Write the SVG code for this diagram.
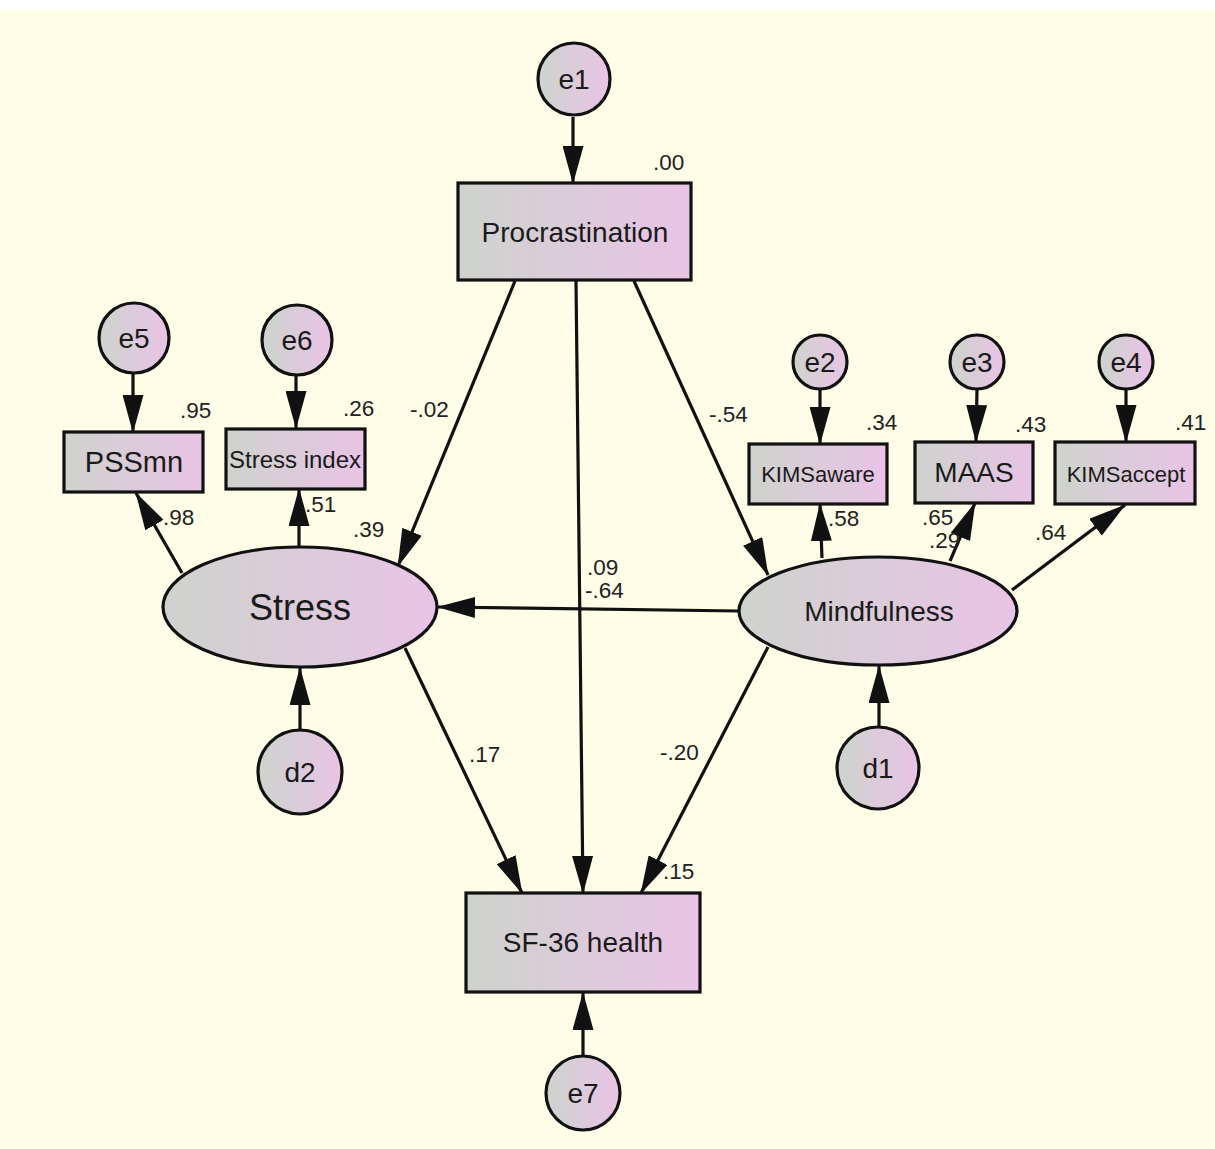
<svg xmlns="http://www.w3.org/2000/svg" width="1215" height="1149" viewBox="0 0 1215 1149">
<defs>
<linearGradient id="g" x1="0" y1="0" x2="1" y2="0">
<stop offset="0" stop-color="#ced3cd"/>
<stop offset="1" stop-color="#e9c3e6"/>
</linearGradient>
<marker id="ah" viewBox="0 0 38 21" refX="37" refY="10.5" markerWidth="38" markerHeight="21" markerUnits="userSpaceOnUse" orient="auto">
<path d="M0,0 L38,10.5 L0,21 z" fill="#111"/>
</marker>
<style>
.n{fill:url(#g);stroke:#111;stroke-width:3.2}
.t{font-family:"Liberation Sans",Arial,sans-serif;fill:#1a1a1a;text-anchor:middle}
.l{font-family:"Liberation Sans",Arial,sans-serif;fill:#222;font-size:22.5px}
.c line{stroke:#111;stroke-width:3.2;marker-end:url(#ah)}
</style>
</defs>
<rect x="0" y="0" width="1215" height="1149" fill="#fff"/>
<rect x="0" y="9" width="1215" height="1140" fill="#fffde8"/>

<g id="connectors" class="c">
<line x1="573" y1="117" x2="573" y2="183"/>
<line x1="515" y1="281" x2="398" y2="566"/>
<line x1="576" y1="281" x2="583" y2="893"/>
<line x1="634" y1="281" x2="768" y2="575"/>
<line x1="739" y1="611" x2="438" y2="607"/>
<line x1="182" y1="573" x2="136" y2="493"/>
<line x1="299" y1="547" x2="299" y2="489"/>
<line x1="822" y1="558" x2="820" y2="504"/>
<line x1="950" y1="561" x2="975" y2="503"/>
<line x1="1012" y1="590" x2="1125" y2="505"/>
<line x1="405" y1="648" x2="522" y2="893"/>
<line x1="768" y1="647" x2="641" y2="893"/>
<line x1="300" y1="731" x2="300" y2="668"/>
<line x1="879" y1="727" x2="879" y2="666"/>
<line x1="583" y1="1056" x2="583" y2="993"/>
<line x1="133" y1="374" x2="133" y2="432"/>
<line x1="296" y1="376" x2="296" y2="428"/>
<line x1="820" y1="389" x2="820" y2="444"/>
<line x1="977" y1="389" x2="976" y2="442"/>
<line x1="1126" y1="389" x2="1126" y2="442"/>
</g>

<g id="e1"><circle class="n" cx="574" cy="79" r="36"/><text class="t" x="574" y="89" font-size="28">e1</text></g>
<g id="procrastination"><rect class="n" x="458" y="183" width="233" height="97"/><text class="t" x="575" y="242" font-size="28">Procrastination</text></g>
<g id="e5"><circle class="n" cx="134" cy="338" r="35"/><text class="t" x="134" y="348" font-size="28">e5</text></g>
<g id="e6"><circle class="n" cx="297" cy="340" r="35"/><text class="t" x="297" y="350" font-size="28">e6</text></g>
<g id="pssmn"><rect class="n" x="64" y="432" width="139" height="60"/><text class="t" x="134" y="472" font-size="29">PSSmn</text></g>
<g id="stressindex"><rect class="n" x="226" y="429" width="139" height="60"/><text class="t" x="295" y="468" font-size="24">Stress index</text></g>
<g id="e2"><circle class="n" cx="820" cy="362" r="27"/><text class="t" x="820" y="372" font-size="28">e2</text></g>
<g id="e3"><circle class="n" cx="977" cy="362" r="27"/><text class="t" x="977" y="372" font-size="28">e3</text></g>
<g id="e4"><circle class="n" cx="1126" cy="362" r="27"/><text class="t" x="1126" y="372" font-size="28">e4</text></g>
<g id="kimsaware"><rect class="n" x="749" y="444" width="138" height="60"/><text class="t" x="818" y="482" font-size="22">KIMSaware</text></g>
<g id="maas"><rect class="n" x="915" y="442" width="118" height="61"/><text class="t" x="974" y="482" font-size="28">MAAS</text></g>
<g id="kimsaccept"><rect class="n" x="1055" y="442" width="140" height="62"/><text class="t" x="1126" y="482" font-size="22">KIMSaccept</text></g>
<g id="stress"><ellipse class="n" cx="300" cy="607" rx="137" ry="60"/><text class="t" x="300" y="620" font-size="36">Stress</text></g>
<g id="mindfulness"><ellipse class="n" cx="878" cy="611" rx="139" ry="54"/><text class="t" x="879" y="621" font-size="28">Mindfulness</text></g>
<g id="d2"><circle class="n" cx="300" cy="772" r="42"/><text class="t" x="300" y="782" font-size="28">d2</text></g>
<g id="d1"><circle class="n" cx="878" cy="768" r="41"/><text class="t" x="878" y="778" font-size="28">d1</text></g>
<g id="sf36"><rect class="n" x="466" y="893" width="234" height="99"/><text class="t" x="583" y="952" font-size="28">SF-36 health</text></g>
<g id="e7"><circle class="n" cx="583" cy="1093" r="37"/><text class="t" x="583" y="1103" font-size="28">e7</text></g>

<g id="labels">
<text class="l" x="653" y="170">.00</text>
<text class="l" x="410" y="417">-.02</text>
<text class="l" x="709" y="422">-.54</text>
<text class="l" x="180" y="418">.95</text>
<text class="l" x="343" y="416">.26</text>
<text class="l" x="163" y="525">.98</text>
<text class="l" x="305" y="512">.51</text>
<text class="l" x="353" y="537">.39</text>
<text class="l" x="866" y="430">.34</text>
<text class="l" x="1015" y="432">.43</text>
<text class="l" x="1175" y="430">.41</text>
<text class="l" x="828" y="526">.58</text>
<text class="l" x="922" y="525">.65</text>
<text class="l" x="929" y="548">.29</text>
<text class="l" x="1035" y="540">.64</text>
<text class="l" x="587" y="575" font-size="20">.09</text>
<text class="l" x="585" y="598" font-size="20">-.64</text>
<text class="l" x="469" y="762">.17</text>
<text class="l" x="660" y="760">-.20</text>
<text class="l" x="663" y="879">.15</text>
</g>
</svg>
